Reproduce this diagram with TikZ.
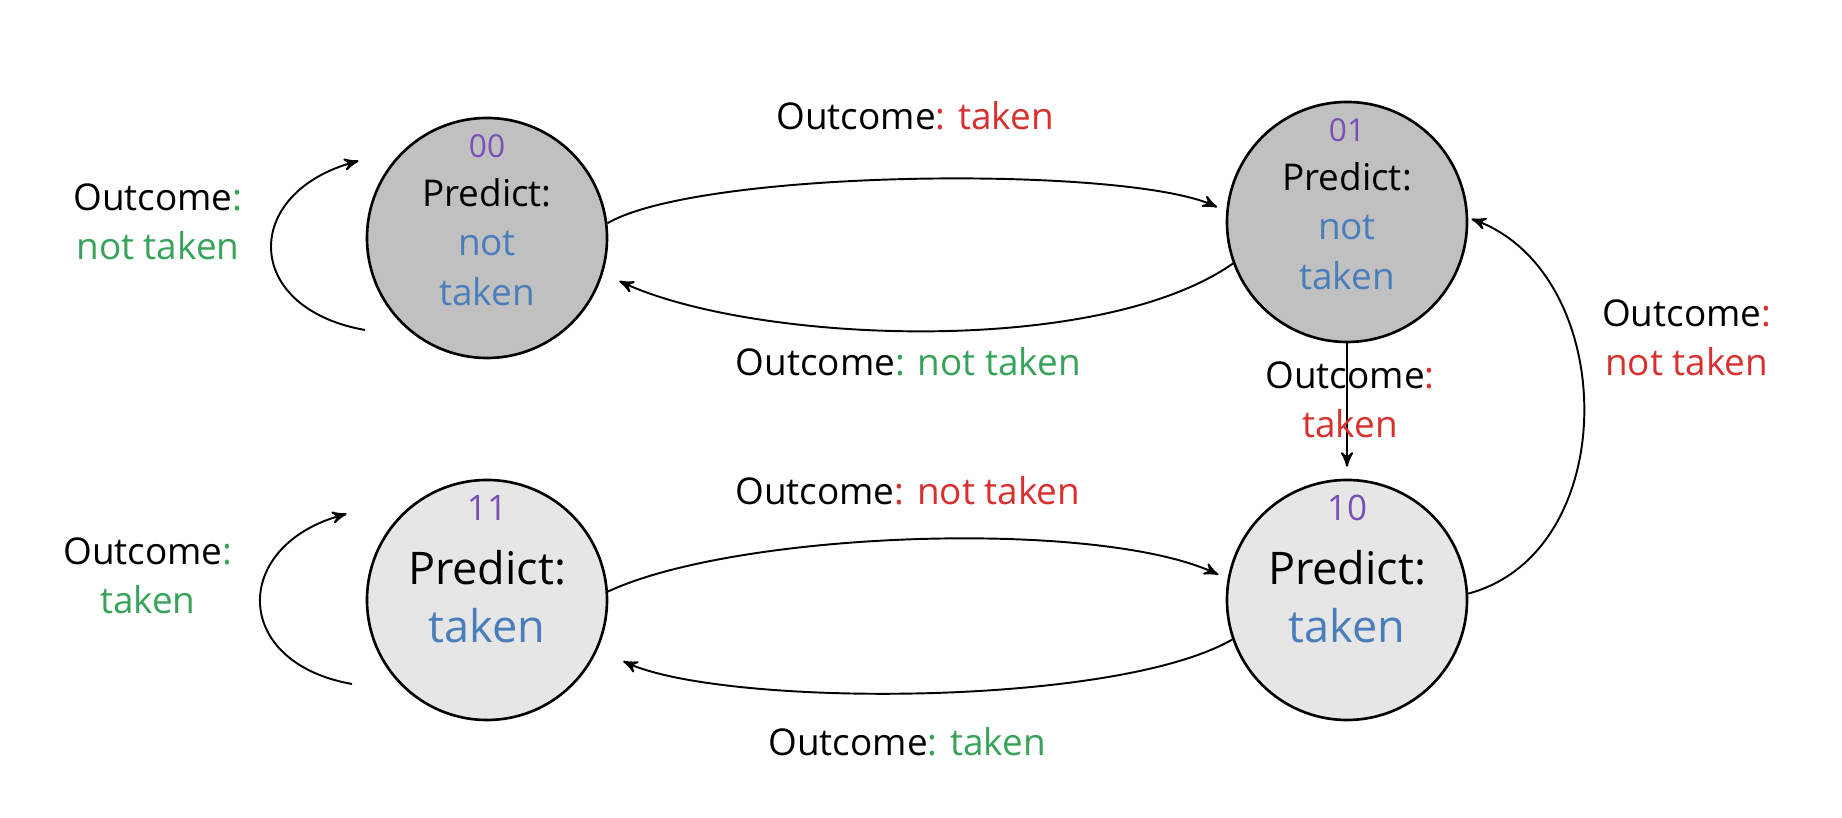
\documentclass[tikz,border=0pt]{standalone}
\usepackage{fontspec}
\setmainfont{Open Sans}
\usetikzlibrary{arrows}

\definecolor{numpurple}{HTML}{7B4FB5}
\definecolor{predblue}{HTML}{4A7EBB}
\definecolor{outred}{HTML}{D8302F}
\definecolor{outgreen}{HTML}{37A35A}
\definecolor{ntfill}{HTML}{C0C0C0}
\definecolor{tkfill}{HTML}{E6E6E6}

\newcommand{\snum}[2]{{\fontsize{#2}{#2}\selectfont\color{numpurple}#1}}
\newcommand{\pblue}[1]{\textcolor{predblue}{#1}}
\newcommand{\nttxt}[1]{\snum{#1}{9}\\Predict:\\\pblue{not}\\\pblue{taken}}
\newcommand{\tktxt}[1]{\snum{#1}{10}\\[1.7pt]Predict:\\\pblue{taken}}
\newcommand{\outc}[2]{Outcome\textcolor{#1}{: #2}}
\newcommand{\outcc}[2]{Outcome\textcolor{#1}{:}\\\textcolor{#1}{#2}}

\begin{document}
\begin{tikzpicture}[>=stealth',shorten >=1pt,node distance=8.6cm,
    ntstate/.style={shape=circle,draw,line width=0.75pt,fill=ntfill,minimum size=2.4cm,inner sep=0pt},
    tkstate/.style={ntstate,fill=tkfill},
    ntext/.style={font=\fontsize{10.5}{14}\selectfont,align=center},
    ttext/.style={font=\fontsize{12.8}{16.5}\selectfont,align=center},
    lbl/.style={font=\fontsize{10.5}{14}\selectfont,align=center,inner sep=1pt},
    every edge/.style={draw,line width=0.55pt}]
  \useasboundingbox (0,0) rectangle (18.42,8.18);

  \node (s00) [ntstate,label={[ntext,yshift=0.18cm]center:\nttxt{00}}] at (4.87,5.80) {};
  \node (s01) [ntstate,label={[ntext,yshift=0.18cm]center:\nttxt{01}}] [right of=s00,yshift=0.16cm] {};
  \node (s11) [tkstate,label={[ttext,yshift=0.31cm]center:\tktxt{11}}] at (4.87,2.18) {};
  \node (s10) [tkstate,label={[ttext,yshift=0.31cm]center:\tktxt{10}}] [right of=s11] {};

  \coordinate (lp00a) at ([shift={(-1.22,-0.92)}]s00.center);
  \coordinate (lp00b) at ([shift={(-1.25,0.78)}]s00.center);
  \coordinate (lp11a) at ([shift={(-1.35,-0.84)}]s11.center);
  \coordinate (lp11b) at ([shift={(-1.37,0.87)}]s11.center);

  \path[->] (s00.7) edge[out=30,in=155,looseness=0.45,shorten >=0.1cm] node[lbl,above=0.45cm] {\outc{outred}{taken}} (s01.175);
  \path[->] (s01.200) edge[out=215,in=-25,looseness=0.67,shorten >=0.18cm] node[lbl,below=0.13cm,xshift=-0.15cm] {\outc{outgreen}{not taken}} (s00.-17);
  \path[->] (s01.south) edge[shorten >=0.12cm] node[lbl,xshift=0.03cm,yshift=0.11cm] {\outcc{outred}{taken}} (s10.north);
  \path[->] (s10.3) edge[out=15,in=-20,looseness=1.1] node[lbl,pos=0.65,right=0.25cm] {\outcc{outred}{not taken}} (s01.2);
  \path[->] (s11.4) edge[out=25,in=155,looseness=0.59,shorten >=0.1cm] node[lbl,above=0.3cm,xshift=-0.1cm] {\outc{outred}{not taken}} (s10.170);
  \path[->] (s10.199) edge[out=210,in=-25,looseness=0.55,shorten >=0.28cm] node[lbl,below=0.31cm,xshift=-0.1cm] {\outc{outgreen}{taken}} (s11.-24);

  \path[->] (lp00a) edge[out=170,in=195,looseness=1.88] node[lbl,left=0.25cm,yshift=0.27cm] {\outcc{outgreen}{not taken}} (lp00b);
  \path[->] (lp11a) edge[out=170,in=195,looseness=1.84] node[lbl,left=0.24cm,yshift=0.27cm] {\outcc{outgreen}{taken}} (lp11b);
\end{tikzpicture}
\end{document}
